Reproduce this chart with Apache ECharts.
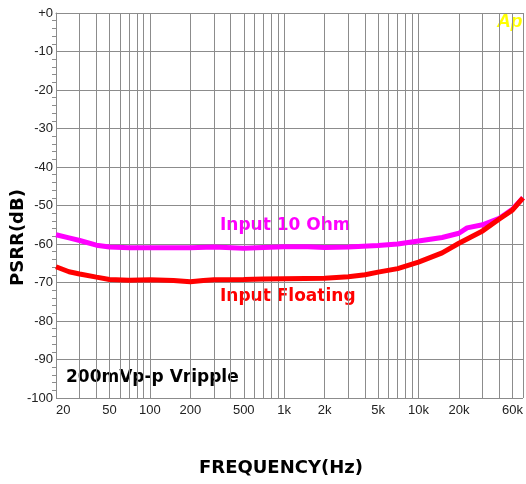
<!DOCTYPE html>
<html><head><meta charset="utf-8">
<script src="https://cdn.jsdelivr.net/npm/echarts@6/dist/echarts.min.js"></script>
<style>html,body{margin:0;padding:0;background:#fff}#c{width:526px;height:484px}</style>
</head><body><div id="c"></div>
<script>
var xGridVals = [20,30,40,50,60,70,80,90,100,200,300,400,500,600,700,800,900,1000,2000,3000,4000,5000,6000,7000,8000,9000,10000,20000,30000,40000,50000,60000];
var xTickVals = [20,50,100,200,500,1000,2000,5000,10000,20000,60000];
var xTickLabels = ['20','50','100','200','500','1k','2k','5k','10k','20k','60k'];

var freq10 = [20,25,30,40,50,70,100,150,200,300,500,700,1000,1500,2000,3000,5000,7000,10000,15000,20000,23000,30000,40000,50000,60000];
var psrr10 = [-57.6,-58.4,-59.1,-60.3,-60.8,-61,-61,-61,-61,-60.8,-61.1,-60.9,-60.7,-60.7,-60.9,-60.8,-60.4,-60.0,-59.2,-58.3,-57.2,-55.8,-55.0,-53.3,-51.0,-48.0];

var freqFl = [20,25,30,40,50,70,100,150,200,250,300,500,700,1000,2000,3000,4000,5000,7000,10000,15000,20000,30000,40000,50000,60000];
var psrrFl = [-65.9,-67.2,-67.8,-68.6,-69.2,-69.4,-69.3,-69.5,-69.8,-69.5,-69.3,-69.2,-69.1,-69.0,-68.9,-68.5,-68.0,-67.3,-66.4,-64.7,-62.3,-59.8,-56.6,-53.5,-51.2,-48.0];

function zip(a,b){return a.map(function(v,i){return [v,b[i]];});}

var chart = echarts.init(document.getElementById('c'));
var gridColor = '#8c8c8c';
chart.setOption({
  animation:false,
  backgroundColor:'#fff',
  grid:{left:56, top:13, right:0, bottom:86, containLabel:false},
  xAxis:{
    type:'log', logBase:10, min:20, max:60000,
    axisLine:{show:true, lineStyle:{color:gridColor}},
    axisTick:{show:false, customValues:xGridVals},
    splitLine:{show:true, lineStyle:{color:gridColor, width:1}},
    minorSplitLine:{show:false},
    axisLabel:{
      customValues:xTickVals,
      formatter:function(v){var i=xTickVals.indexOf(v);return i>=0?xTickLabels[i]:'';},
      color:'#222', fontFamily:'Liberation Sans', fontSize:13, margin:6,
      alignMinLabel:'left', alignMaxLabel:'right'
    }
  },
  yAxis:{
    type:'value', min:-100, max:0, interval:10,
    axisLine:{show:true, lineStyle:{color:gridColor}},
    axisTick:{show:false},
    minorTick:{show:true, splitNumber:5, length:4, lineStyle:{color:gridColor}},
    splitLine:{show:true, lineStyle:{color:gridColor, width:1}},
    axisLabel:{
      formatter:function(v){return v===0?'+0':String(v);},
      color:'#222', fontFamily:'Liberation Sans', fontSize:13, margin:3
    }
  },
  series:[
    {type:'line', data:zip(freq10,psrr10), showSymbol:false, symbol:'none', lineStyle:{color:'#ff00ff', width:5}, z:5},
    {type:'line', data:zip(freqFl,psrrFl), showSymbol:false, symbol:'none', lineStyle:{color:'#ff0000', width:5}, z:6}
  ],
  graphic:[
    {type:'text', left:220, top:217, style:{text:'Input 10 Ohm', fill:'#ff00ff', font:'bold 17px "DejaVu Sans"'}},
    {type:'text', left:220, top:288, style:{text:'Input Floating', fill:'#ff0000', font:'bold 17px "DejaVu Sans"'}},
    {type:'text', left:66, top:369, style:{text:'200mVp-p Vripple', fill:'#000', font:'bold 17px "DejaVu Sans"'}},
    {type:'text', left:199, top:459, style:{text:'FREQUENCY(Hz)', fill:'#000', font:'bold 18px "DejaVu Sans"'}},
    {type:'text', x:9, y:286, rotation:Math.PI/2, style:{text:'PSRR(dB)', fill:'#000', font:'bold 18px "DejaVu Sans"'}},
    {type:'text', left:497, top:12, style:{text:'Ap', fill:'#ffff00', font:'italic bold 19px "Liberation Sans"'}}
  ]
});
</script></body></html>
